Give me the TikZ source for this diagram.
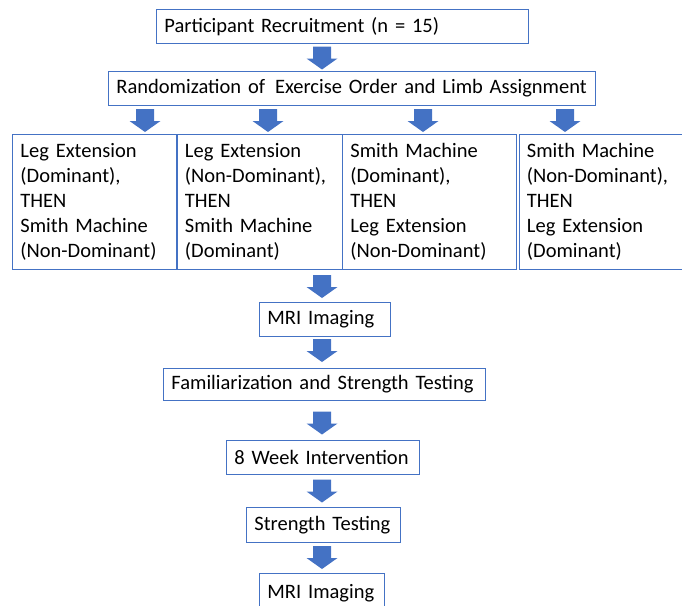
\documentclass[tikz,border=0pt]{standalone}
\usepackage{fontspec}
\setmainfont{Carlito}[WordSpace=0.75]
\definecolor{boxblue}{HTML}{4472C4}
\definecolor{arrblue}{HTML}{4472C4}
\tikzset{
  box/.style={draw=boxblue, line width=0.9pt, fill=white, font=\fontsize{20.5}{25}\selectfont,
    inner xsep=8pt, inner ysep=0pt, align=left, anchor=north west, text=black},
  barrow/.pic={\fill[arrblue] (-9,11.5) -- (9,11.5) -- (9,-0.5) -- (15.5,-0.5) -- (0,-11.5)
     -- (-15.5,-0.5) -- (-9,-0.5) -- cycle;}
}
\begin{document}
\begin{tikzpicture}[x=1pt,y=1pt]
\useasboundingbox (0,0) rectangle (682,-605);
\node[box, text width=356pt, minimum height=34pt] (rec) at (156,-9) {Participant Recruitment (n = 15)};
\node[box, text width=471pt, minimum height=34pt] (rand) at (108,-71) {\mbox{Randomization of\hspace{10pt}Exercise Order and Limb Assignment}};
\node[box, text width=148pt, minimum height=135pt] (g1) at (12,-134) {Leg Extension\\(Dominant),\\THEN\\Smith Machine\\(Non-Dominant)};
\node[box, text width=149pt, minimum height=135pt] (g2) at (176.5,-134) {Leg Extension\\(Non-Dominant),\\THEN\\Smith Machine\\(Dominant)};
\node[box, text width=158pt, minimum height=135pt] (g3) at (342,-134) {Smith Machine\\(Dominant),\\THEN\\Leg Extension\\(Non-Dominant)};
\node[box, text width=154pt, minimum height=135pt] (g4) at (518.5,-134) {Smith Machine\\(Non-Dominant),\\THEN\\Leg Extension\\(Dominant)};
\node[box, text width=115pt, minimum height=34pt] (mri1) at (259,-302) {MRI Imaging};
\node[box, text width=306pt, minimum height=32pt] (fam) at (163,-368) {Familiarization and Strength Testing};
\node[box, text width=177pt, minimum height=34pt] (week) at (226,-440) {8 Week Intervention};
\node[box, text width=138pt, minimum height=35pt] (st) at (246,-507) {Strength Testing};
\node[box, text width=109pt, minimum height=40pt] (mri2) at (259,-573) {MRI Imaging};
\pic at (322,-58) {barrow};
\pic at (145,-120.5) {barrow};
\pic at (268,-120.5) {barrow};
\pic at (423,-120.5) {barrow};
\pic at (565,-120.5) {barrow};
\pic at (322,-286.5) {barrow};
\pic at (322,-350.5) {barrow};
\pic at (322,-423) {barrow};
\pic at (322,-491) {barrow};
\pic at (322,-557.5) {barrow};
\end{tikzpicture}
\end{document}
